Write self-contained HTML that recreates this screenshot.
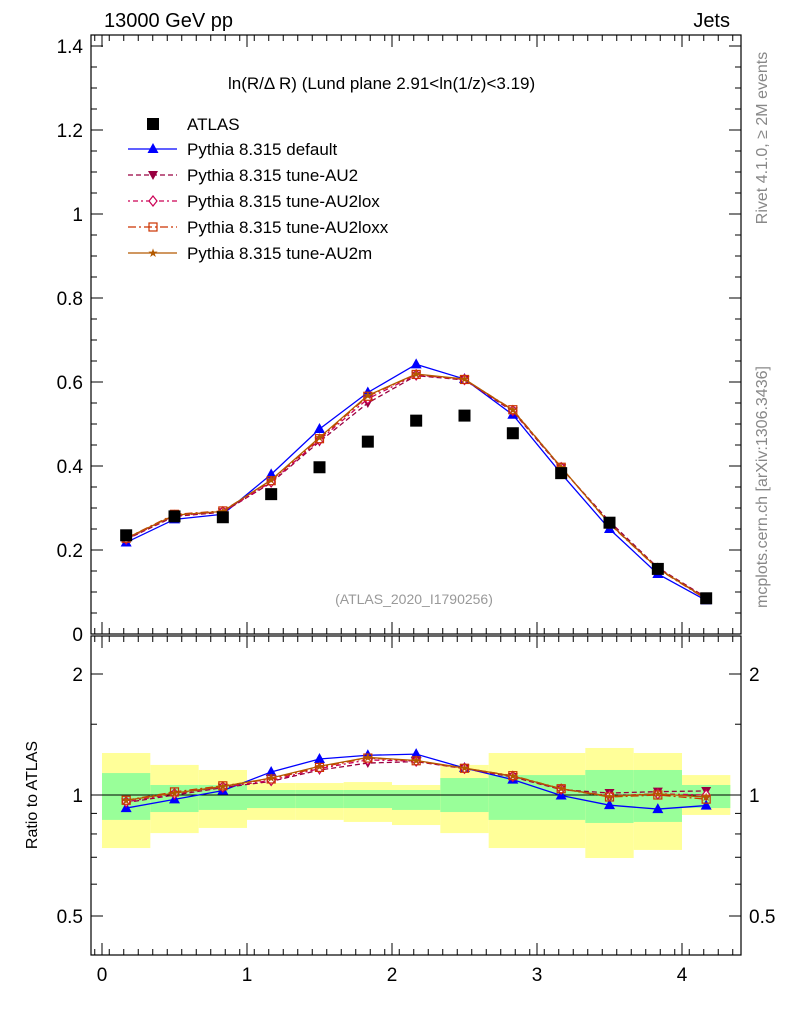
<!DOCTYPE html>
<html><head><meta charset="utf-8"><style>
body{margin:0;background:#fff;}
svg text{font-family:"Liberation Sans",sans-serif;}
</style></head><body>
<svg id="c" width="786" height="1024" xmlns="http://www.w3.org/2000/svg"></svg>
<script>
const categories=[0.1667,0.5,0.8333,1.1667,1.5,1.8333,2.1667,2.5,2.8333,3.1667,3.5,3.8333,4.1667];
const binLo=[0,0.3333,0.6667,1,1.3333,1.6667,2,2.3333,2.6667,3,3.3333,3.6667,4];
const binHi=[0.3333,0.6667,1,1.3333,1.6667,2,2.3333,2.6667,3,3.3333,3.6667,4,4.3333];
const atlas=[0.235,0.28,0.278,0.333,0.397,0.458,0.508,0.52,0.478,0.383,0.265,0.155,0.085];
const sDefault=[0.218,0.273,0.285,0.38,0.488,0.575,0.642,0.607,0.522,0.382,0.25,0.143,0.08];
const sAU2=[0.225,0.28,0.29,0.36,0.458,0.55,0.615,0.605,0.53,0.395,0.268,0.158,0.087];
const sAU2lox=[0.226,0.282,0.291,0.362,0.462,0.56,0.617,0.606,0.532,0.396,0.264,0.156,0.085];
const sAU2loxx=[0.228,0.285,0.293,0.365,0.465,0.566,0.618,0.606,0.534,0.397,0.262,0.155,0.083];
const sAU2m=[0.228,0.283,0.292,0.367,0.468,0.568,0.619,0.607,0.533,0.397,0.263,0.156,0.084];
const yelHi=[1.272,1.188,1.154,1.071,1.071,1.077,1.059,1.188,1.272,1.272,1.309,1.272,1.121];
const yelLo=[0.738,0.804,0.828,0.867,0.867,0.857,0.842,0.804,0.738,0.738,0.697,0.73,0.892];
const grnHi=[1.134,1.059,1.059,1.029,1.029,1.029,1.029,1.102,1.121,1.121,1.154,1.154,1.059];
const grnLo=[0.867,0.907,0.918,0.928,0.928,0.928,0.918,0.907,0.867,0.867,0.852,0.857,0.928];
const mainTicks=[0,0.2,0.4,0.6,0.8,1,1.2,1.4];
const mainTickLabels=["0","0.2","0.4","0.6","0.8","1","1.2","1.4"];
const xTicks=[0,1,2,3,4];
const ratioTicks=[0.5,1,2];
const ratioTickLabels=["0.5","1","2"];

const NS="http://www.w3.org/2000/svg";
const svg=document.getElementById('c');
function mk(t,a,p){const e=document.createElementNS(NS,t);for(const k in a)e.setAttribute(k,a[k]);(p||svg).appendChild(e);return e;}
const L=91,R=741,MT=35,MB=634,RT=636,RB=955;
const X=v=>102+v*145;
const Y=v=>634-v*420;
const YR=v=>795-Math.log2(v)*121;

for(let i=0;i<categories.length;i++){
  const b=mk('rect',{x:X(binLo[i]),y:YR(yelHi[i]),width:X(binHi[i])-X(binLo[i]),height:YR(yelLo[i])-YR(yelHi[i]),fill:'#ffff99'});
  
  
  const g=mk('rect',{x:X(binLo[i]),y:YR(grnHi[i]),width:X(binHi[i])-X(binLo[i]),height:YR(grnLo[i])-YR(grnHi[i]),fill:'#99ff99'});
  
  
}
mk('line',{x1:L,x2:R,y1:YR(1),y2:YR(1),stroke:'#000','stroke-width':1});

const f1=mk('rect',{x:L,y:MT,width:R-L,height:MB-MT,fill:'none',stroke:'#000','stroke-width':1.2});

const f2=mk('rect',{x:L,y:RT,width:R-L,height:RB-RT,fill:'none',stroke:'#000','stroke-width':1.2});


mainTicks.forEach((v,i)=>{
  mk('line',{x1:L,x2:L+12,y1:Y(v),y2:Y(v),stroke:'#000'});
  mk('line',{x1:R,x2:R-12,y1:Y(v),y2:Y(v),stroke:'#000'});
  const t=mk('text',{x:L-8,y:Y(v)+7,'text-anchor':'end','font-size':19});t.textContent=mainTickLabels[i];
  
  if(i<mainTicks.length-1)for(let k=1;k<4;k++){const m=v+k*0.05;mk('line',{x1:L,x2:L+6,y1:Y(m),y2:Y(m),stroke:'#000'});mk('line',{x1:R,x2:R-6,y1:Y(m),y2:Y(m),stroke:'#000'});}
});
for(let v=-0.05;v<4.4;v+=0.1){if(v<-0.076)continue;
  [[MB,-1],[MT,1],[RB,-1],[RT,1]].forEach(([y0,d])=>mk('line',{x1:X(v),x2:X(v),y1:y0,y2:y0+d*6,stroke:'#000'}));}
xTicks.forEach(v=>{[[MB,-1],[MT,1],[RB,-1],[RT,1]].forEach(([y0,d])=>mk('line',{x1:X(v),x2:X(v),y1:y0,y2:y0+d*12,stroke:'#000'}));
  const t=mk('text',{x:X(v),y:981,'text-anchor':'middle','font-size':19});t.textContent=v;
  });
ratioTicks.forEach((v,i)=>{
  mk('line',{x1:L,x2:L+12,y1:YR(v),y2:YR(v),stroke:'#000'});mk('line',{x1:R,x2:R-12,y1:YR(v),y2:YR(v),stroke:'#000'});
  const t=mk('text',{x:L-8,y:YR(v)+7,'text-anchor':'end','font-size':19});t.textContent=ratioTickLabels[i];
  
  const t2=mk('text',{x:R+8,y:YR(v)+7,'font-size':19});t2.textContent=ratioTickLabels[i];
  
});
[0.6,0.7,0.8,0.9,1.5].forEach(v=>{mk('line',{x1:L,x2:L+6,y1:YR(v),y2:YR(v),stroke:'#000'});mk('line',{x1:R,x2:R-6,y1:YR(v),y2:YR(v),stroke:'#000'});});

function marker(type,x,y,col,g){
  if(type==='tri')mk('polygon',{points:`${x},${y-6} ${x-5.5},${y+4} ${x+5.5},${y+4}`,fill:col},g);
  else if(type==='tridown')mk('polygon',{points:`${x},${y+5} ${x-5},${y-4} ${x+5},${y-4}`,fill:col},g);
  else if(type==='diamond')mk('polygon',{points:`${x},${y-5} ${x+4},${y} ${x},${y+5} ${x-4},${y}`,fill:'#fff',stroke:col,'stroke-width':1.2},g);
  else if(type==='square')mk('rect',{x:x-4,y:y-4,width:8,height:8,fill:'none',stroke:col,'stroke-width':1.2},g);
  else if(type==='star')mk('text',{x:x,y:y+4,'text-anchor':'middle','font-size':12,fill:col},g).textContent='★';
  else if(type==='sq')mk('rect',{x:x-6,y:y-6,width:12,height:12,fill:col},g);
}
const series=[
 {name:'default',data:sDefault,col:'#0000ff',dash:'',m:'tri',label:'Pythia 8.315 default'},
 {name:'au2',data:sAU2,col:'#990040',dash:'5,3',m:'tridown',label:'Pythia 8.315 tune-AU2'},
 {name:'au2lox',data:sAU2lox,col:'#cc0055',dash:'2,3,5,3',m:'diamond',label:'Pythia 8.315 tune-AU2lox'},
 {name:'au2loxx',data:sAU2loxx,col:'#cc3300',dash:'8,3,2,3',m:'square',label:'Pythia 8.315 tune-AU2loxx'},
 {name:'au2m',data:sAU2m,col:'#b35900',dash:'',m:'star',label:'Pythia 8.315 tune-AU2m'}];
series.forEach(s=>{
  const g=mk('g',{});
  
  mk('polyline',{points:categories.map((c,i)=>X(c)+','+Y(s.data[i])).join(' '),fill:'none',stroke:s.col,'stroke-width':1.3,'stroke-dasharray':s.dash},g);
  categories.forEach((c,i)=>marker(s.m,X(c),Y(s.data[i]),s.col,g));
  const gr=mk('g',{});
  
  mk('polyline',{points:categories.map((c,i)=>X(c)+','+YR(s.data[i]/atlas[i])).join(' '),fill:'none',stroke:s.col,'stroke-width':1.3,'stroke-dasharray':s.dash},gr);
  categories.forEach((c,i)=>marker(s.m,X(c),YR(s.data[i]/atlas[i]),s.col,gr));
});
const ga=mk('g',{});
categories.forEach((c,i)=>marker('sq',X(c),Y(atlas[i]),'#000',ga));

const lg=mk('g',{});
marker('sq',153,124,'#000',lg);
mk('text',{x:187,y:130,'font-size':17},lg).textContent='ATLAS';
series.forEach((s,i)=>{const y=149+i*26;
  mk('line',{x1:128,x2:177,y1:y,y2:y,stroke:s.col,'stroke-width':1.3,'stroke-dasharray':s.dash},lg);
  marker(s.m,153,y,s.col,lg);
  mk('text',{x:187,y:y+6,'font-size':17},lg).textContent=s.label;});

function txt(x,y,s,str,name,extra){const t=mk('text',Object.assign({x:x,y:y,'font-size':s},extra||{}));t.textContent=str;return t;}
txt(104,27,20,'13000 GeV pp','energy-label');
txt(730,27,20,'Jets','process-label',{'text-anchor':'end'});
txt(228,89,17,'ln(R/Δ R) (Lund plane 2.91<ln(1/z)<3.19)','plot-title');
txt(414,604,14,'(ATLAS_2020_I1790256)','analysis-label',{'text-anchor':'middle',fill:'#999'});
txt(0,0,16,'Ratio to ATLAS','ratio-y-axis-title',{transform:'translate(37,795) rotate(-90)','text-anchor':'middle'});
txt(0,0,16,'Rivet 4.1.0, ≥ 2M events','rivet-label',{transform:'translate(767,138) rotate(-90)','text-anchor':'middle',fill:'#888'});
txt(0,0,16,'mcplots.cern.ch [arXiv:1306.3436]','mcplots-label',{transform:'translate(767,487) rotate(-90)','text-anchor':'middle',fill:'#888'});
</script>
</body></html>
